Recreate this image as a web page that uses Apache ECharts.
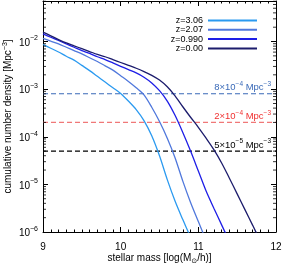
<!DOCTYPE html>
<html><head><meta charset="utf-8">
<script src="https://cdn.jsdelivr.net/npm/echarts@6/dist/echarts.min.js"></script>
<style>html,body{margin:0;padding:0;background:#fff}#c{width:283px;height:265px}</style>
</head><body><div id="c"></div>
<script>
const seriesNames = ['z=3.06', 'z=2.07', 'z=0.990', 'z=0.00'];
const seriesColors = ['#2b9af0', '#5078dc', '#1e1ee6', '#1c1c6c'];

const mass_z306 = [9.0, 9.1, 9.2, 9.3, 9.4, 9.5, 9.6, 9.7, 9.8, 9.9, 10.0, 10.1, 10.2, 10.3, 10.4, 10.5, 10.6, 10.7, 10.8, 10.87, 10.9];
const dens_z306 = [8.71e-3, 7.24e-3, 6.03e-3, 4.90e-3, 4.07e-3, 3.16e-3, 2.45e-3, 1.86e-3, 1.41e-3, 1.07e-3, 8.13e-4, 5.62e-4, 3.72e-4, 2.19e-4, 1.05e-4, 3.98e-5, 1.26e-5, 4.47e-6, 1.82e-6, 1.0e-6, 7.6e-7];

const mass_z207 = [9.0, 9.1, 9.2, 9.3, 9.4, 9.5, 9.6, 9.7, 9.8, 9.9, 10.0, 10.1, 10.2, 10.3, 10.4, 10.5, 10.6, 10.7, 10.8, 10.9, 11.0, 11.1];
const dens_z207 = [1.17e-2, 1.02e-2, 8.91e-3, 7.59e-3, 6.46e-3, 5.50e-3, 4.57e-3, 3.80e-3, 3.09e-3, 2.51e-3, 1.91e-3, 1.45e-3, 1.07e-3, 7.59e-4, 4.17e-4, 2.09e-4, 9.33e-5, 3.63e-5, 1.17e-5, 4.17e-6, 1.66e-6, 6.6e-7];

const mass_z099 = [9.0, 9.1, 9.2, 9.3, 9.4, 9.5, 9.6, 9.7, 9.8, 9.9, 10.0, 10.1, 10.2, 10.3, 10.4, 10.5, 10.6, 10.7, 10.8, 10.9, 11.0, 11.1, 11.2, 11.3, 11.4];
const dens_z099 = [1.45e-2, 1.23e-2, 1.05e-2, 8.91e-3, 7.59e-3, 6.46e-3, 5.62e-3, 4.79e-3, 4.17e-3, 3.55e-3, 3.02e-3, 2.57e-3, 2.19e-3, 1.78e-3, 1.35e-3, 9.3e-4, 5.62e-4, 2.82e-4, 1.23e-4, 5.01e-5, 1.91e-5, 7.24e-6, 3.16e-6, 1.41e-6, 6.3e-7];

const mass_z000 = [9.0, 9.1, 9.2, 9.3, 9.4, 9.5, 9.6, 9.7, 9.8, 9.9, 10.0, 10.1, 10.2, 10.3, 10.4, 10.5, 10.6, 10.7, 10.8, 10.9, 11.0, 11.1, 11.2, 11.3, 11.4, 11.5, 11.6, 11.7, 11.8];
const dens_z000 = [1.58e-2, 1.32e-2, 1.10e-2, 9.33e-3, 8.13e-3, 7.08e-3, 6.17e-3, 5.37e-3, 4.79e-3, 4.17e-3, 3.63e-3, 3.16e-3, 2.75e-3, 2.34e-3, 1.95e-3, 1.55e-3, 1.12e-3, 7.24e-4, 4.27e-4, 2.57e-4, 1.58e-4, 9.33e-5, 5.37e-5, 2.82e-5, 1.35e-5, 6.31e-6, 2.95e-6, 1.38e-6, 6.3e-7];

const refValues = [8e-4, 2e-4, 5e-5];
const refMantissa = ['8', '2', '5'];
const refExponent = ['−4', '−4', '−5'];
const refLineColors = ['#3a6ab8', '#f07878', '#000000'];
const refTextColors = ['#3a6ab8', '#f03030', '#000000'];

const xMin = 9, xMax = 12;
const yMin = 1e-6, yMax = 0.071;
const minorMultipliers = [2, 3, 4, 5, 6, 7, 8, 9];
const minorDecades = [-6, -5, -4, -3, -2];

const FONT = 'Liberation Sans, Arial, Helvetica, sans-serif';

const curves = [
  [mass_z306, dens_z306],
  [mass_z207, dens_z207],
  [mass_z099, dens_z099],
  [mass_z000, dens_z000]
];

const minorValues = [];
minorDecades.forEach(d => minorMultipliers.forEach(m => {
  const v = m * Math.pow(10, d);
  if (v < yMax) minorValues.push(v);
}));

const lineSeries = curves.map((c, i) => ({
  name: seriesNames[i],
  type: 'line',
  data: c[0].map((x, k) => [x, c[1][k]]),
  showSymbol: false,
  smooth: 0.3,
  color: seriesColors[i],
  lineStyle: { width: 1.3, color: seriesColors[i] },
  z: 3
}));

const refSeries = refValues.map((v, i) => ({
  name: 'ref' + i,
  type: 'line',
  data: [[xMin, v], [xMax, v]],
  showSymbol: false,
  silent: true,
  color: refLineColors[i],
  lineStyle: { color: refLineColors[i], type: [5, 3], width: 1.2 },
  z: 2,
  endLabel: {
    show: true,
    align: 'right',
    verticalAlign: 'bottom',
    distance: 0,
    offset: [-5, -1],
    formatter: '{t|' + refMantissa[i] + '×10}{s|' + refExponent[i] + '}{t| Mpc}{s|−3}',
    rich: {
      t: { fontSize: 9.5, fontFamily: FONT, color: refTextColors[i], lineHeight: 12, verticalAlign: 'bottom' },
      s: { fontSize: 6.5, fontFamily: FONT, color: refTextColors[i], lineHeight: 12, verticalAlign: 'top' }
    }
  }
}));

const tickSeries = (xPos, offset) => ({
  type: 'scatter',
  silent: true,
  clip: false,
  symbol: 'rect',
  symbolSize: [3, 1],
  symbolOffset: [offset, 0],
  itemStyle: { color: '#000' },
  data: minorValues.map(v => [xPos, v]),
  z: 10
});

const axisLineStyle = { show: true, lineStyle: { color: '#000', width: 1 } };
const yLabelFormatter = v => {
  const l = Math.log10(v);
  const e = Math.round(l);
  if (Math.abs(l - e) > 1e-6) return '';
  return '{b|10}{s|' + (e < 0 ? '−' : '') + Math.abs(e) + '}';
};

const chart = echarts.init(document.getElementById('c'), null, { renderer: 'canvas' });
chart.setOption({
  animation: false,
  backgroundColor: '#fff',
  grid: { left: 43, right: 7, top: 1, bottom: 33, outerBoundsMode: 'none', containLabel: false },
  legend: {
    data: seriesNames,
    orient: 'vertical',
    right: 21,
    top: 11,
    align: 'right',
    icon: 'rect',
    itemWidth: 49,
    itemHeight: 2,
    itemGap: 0.3,
    selectedMode: false,
    textStyle: { fontSize: 9, lineHeight: 9, fontFamily: FONT, color: '#000' }
  },
  xAxis: [
    {
      type: 'value', min: xMin, max: xMax, interval: 1, position: 'bottom',
      axisLine: axisLineStyle,
      axisTick: { show: true, inside: true, length: 5, lineStyle: { color: '#000' } },
      minorTick: { show: true, splitNumber: 10, length: 2.5, lineStyle: { color: '#000' } },
      splitLine: { show: false },
      axisLabel: { fontSize: 10, fontFamily: FONT, color: '#000', margin: 10 },
      name: 'stellar mass [log(M{sub|⊙}/h)]',
      nameLocation: 'middle',
      nameGap: 19,
      nameMoveOverlap: false,
      nameTextStyle: {
        fontSize: 10, fontFamily: FONT, color: '#000',
        rich: {
          sub: { fontSize: 7, fontFamily: 'DejaVu Sans, sans-serif', color: '#000', lineHeight: 14, verticalAlign: 'bottom' }
        },
        lineHeight: 14, verticalAlign: 'top'
      }
    },
    {
      type: 'value', min: xMin, max: xMax, interval: 1, position: 'top',
      axisLine: axisLineStyle,
      axisTick: { show: true, inside: true, length: 5, lineStyle: { color: '#000' } },
      minorTick: { show: true, splitNumber: 10, length: 2.5, lineStyle: { color: '#000' } },
      splitLine: { show: false },
      axisLabel: { show: false }
    }
  ],
  yAxis: [
    {
      type: 'log', logBase: 10, min: yMin, max: yMax, position: 'left',
      axisLine: axisLineStyle,
      axisTick: { show: true, inside: true, length: 5, lineStyle: { color: '#000' } },
      splitLine: { show: false },
      axisLabel: {
        showMaxLabel: false,
        margin: 5,
        formatter: yLabelFormatter,
        rich: {
          b: { fontSize: 10, fontFamily: FONT, color: '#000', lineHeight: 13, verticalAlign: 'bottom' },
          s: { fontSize: 7, fontFamily: FONT, color: '#000', lineHeight: 13, verticalAlign: 'top' }
        }
      },
      name: 'cumulative number density [Mpc{sup|−3}]',
      nameLocation: 'middle',
      nameGap: 28,
      nameMoveOverlap: false,
      nameRotate: 90,
      nameTextStyle: {
        fontSize: 10, fontFamily: FONT, color: '#000',
        rich: {
          sup: { fontSize: 7, fontFamily: FONT, color: '#000', lineHeight: 13, verticalAlign: 'top' }
        }
      }
    },
    {
      type: 'log', logBase: 10, min: yMin, max: yMax, position: 'right',
      axisLine: axisLineStyle,
      axisTick: { show: true, inside: true, length: 5, lineStyle: { color: '#000' } },
      splitLine: { show: false },
      axisLabel: { show: false }
    }
  ],
  series: [...refSeries, ...lineSeries, tickSeries(xMin, 1.5), tickSeries(xMax, -1.5)]
});
</script>
</body></html>
